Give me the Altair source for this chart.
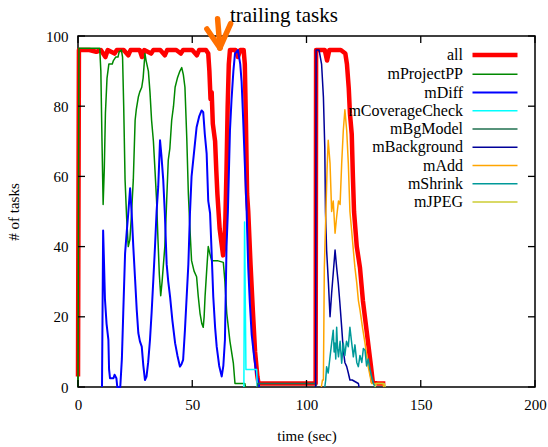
import altair as alt
import pandas as pd

# ---------------- data ----------------
series_names = ["all", "mProjectPP", "mDiff", "mCoverageCheck", "mBgModel",
                "mBackground", "mAdd", "mShrink", "mJPEG"]
series_colors = ["#ff0000", "#008800", "#0000ff", "#00ffff", "#1f6f4f",
                 "#000099", "#ffa500", "#009999", "#cccc33"]
series_widths = [4.5, 1.5, 2.0, 1.5, 1.5, 1.5, 1.5, 1.5, 1.5]

all_t = [0, 0.4, 5, 8, 10, 12, 13, 16, 17, 20, 22, 23, 27, 28, 29, 32, 33, 36, 38, 39,
         43, 45, 46, 50, 52, 53, 56, 57, 57.5, 58, 58.5, 59, 60, 60.5, 61, 62, 63, 63.5,
         64, 64.5, 65, 65.5, 66, 66.5, 69, 70, 71, 72.5, 73, 73.5, 74, 74.5, 75.5, 76.5,
         77.5, 78.5, 79, 90, 104, 104.2, 108, 109, 110, 115, 117, 117.7, 118.5, 119,
         119.8, 120.3, 120.8, 122, 123.4, 124.7, 126.5, 128.2, 129, 131, 134.5]
all_v = [3, 96, 96, 95.5, 96, 94, 96, 95, 96, 96, 94.5, 96, 96, 94, 96, 95, 96, 96, 94.5, 96,
         96, 95, 96, 96, 94.5, 96, 96, 95, 90, 82, 84, 75, 70, 62, 55, 45, 40, 37.5,
         40, 48, 62, 80, 92, 96, 96, 94, 96, 96, 92, 75, 55, 50, 35, 22,
         10, 3, 1, 1, 1, 96, 96, 93, 96, 96, 95, 92, 85, 78,
         72, 60, 50, 40, 34, 24.5, 15, 6, 1.5, 1, 1]

pp_t = [0, 0.4, 9.5, 10, 10.5, 11, 11.5, 12, 12.7, 13.5, 15, 15.5, 16.5, 17.5, 18, 19, 19.5,
        20, 20.6, 21.3, 22, 22.7, 23.3, 24.2, 25, 25.5, 26.4, 27, 27.9, 28.5, 29.3, 29.8,
        30.8, 31.5, 32.2, 33, 33.7, 34.4, 35, 35.6, 36.2, 36.8, 37.4, 38, 38.8, 39.5, 40.2,
        41, 41.8, 42.5, 43.5, 44.6, 45.4, 46.1, 46.8, 47.6, 48.3, 49, 49.7, 50.8, 51.9,
        52.6, 53.4, 54.2, 54.8, 55.2, 55.6, 56.3, 57, 57.7, 58.5, 61, 63.6, 64.3, 65.1,
        66.5, 68, 68.7, 73, 73.3]
pp_v = [0, 96.5, 96.5, 90, 70, 52, 62, 78, 88, 92, 92, 93, 94, 94, 95.5, 96, 94,
        80, 59, 48, 40, 42, 48, 59, 76, 79, 82.6, 84, 85.4, 88, 95, 93,
        90, 84, 76, 70, 61.7, 53, 42, 32, 26, 30, 35, 40, 53, 64.6, 68,
        76, 80, 85.4, 88, 90, 91, 89, 85.4, 71, 55, 45, 36, 33, 31.4,
        26, 21, 18, 17, 20, 25.7, 33, 40, 38, 36, 36, 35.5, 30, 21,
        13, 6.7, 1, 1, 0]

diff_t = [10.5, 11, 11.4, 11.8, 12.5, 13.3, 13.6, 14, 15.5, 16, 16.8, 17.2, 18.5, 19.2, 19.8,
          20.6, 21.3, 22, 22.8, 23.5, 24.2, 25, 25.7, 26.4, 27.1, 27.9, 28.6, 29.3, 30, 30.7,
          31.5, 32.2, 33, 33.7, 34.4, 35.1, 35.9, 36.5, 37.3, 38, 38.8, 39.5, 40.3, 41.3,
          42.5, 43.5, 44.6, 45.3, 46, 46.8, 47.5, 48.3, 49, 49.7, 50.8, 51.9, 53, 54.1,
          54.8, 55.5, 56.3, 57, 57.8, 58.5, 59.2, 60, 60.7, 61.8, 62.9, 63.6, 64.3, 65,
          65.6, 66.5, 67.2, 68, 68.7, 70, 71, 71.6, 72.3, 73, 73.8, 74.5, 75.2, 76, 77,
          78, 78.9, 79.3]
diff_v = [0, 44.6, 35, 25, 18, 13.4, 5, 2.5, 2.5, 3.5, 2.5, 0, 0, 8, 21,
          38, 44, 49.5, 56.6, 49.5, 40, 30.5, 22, 15.4, 13, 11.5, 6, 2, 3, 7,
          13.4, 21, 31, 40, 50, 57, 70.3, 66, 59, 49.5, 35, 30, 25.7, 19,
          12.5, 9, 5.8, 6.5, 7.7, 16.2, 25, 35, 49.5, 60, 67, 74, 77, 78.8,
          78.3, 72, 66.5, 53, 49.5, 38, 25.7, 17, 11.5, 6, 3, 6, 13.4, 40,
          50, 73, 82, 90, 95, 96, 92, 87, 76, 63.7, 50, 34, 24, 15, 9,
          4, 1.5, 0]

cov_t = [72.6, 72.9, 73.5, 78.2, 78.4]
cov_v = [0, 47, 5, 5, 0]

bg_t = [78.5, 78.7, 104, 104.2]
bg_v = [0, 1, 1, 0]

bk_t = [104, 104.2, 105.5, 106.6, 107.4, 108, 108.3, 108.8, 109.6, 110.3, 111, 111.7, 112.5,
        113.2, 113.9, 114.6, 115.4, 116.1, 116.8, 117.6, 118.3, 119, 120, 122.7, 123]
bk_v = [0, 96, 96, 92, 82.6, 68.4, 50, 39, 29.6, 20, 26.7, 32.4, 39,
        34, 29.6, 24, 17, 10.5, 7, 5.8, 4, 2, 2, 1, 0]

add_t = [106.5, 107, 107.4, 107.8, 108.5, 109, 109.5, 110.3, 111, 111.7, 112.5, 113.2, 114,
         114.7, 115.4, 116.1, 116.8, 117.6, 118.3, 119, 119.7, 120.5, 121.2, 122, 122.7,
         123.4, 124.5, 125.6, 127, 128.5, 133.5, 133.8]
add_v = [0, 2, 2, 34, 50, 62, 70.3, 63.7, 50, 53, 43.8, 48.5, 53,
         52, 63.7, 73, 79, 73, 63.7, 50, 45, 39, 34, 29.6, 24.7,
         22, 17, 12.5, 5.8, 1, 1, 0]

shr_t = [108, 108.4, 108.8, 109.5, 110.3, 111, 111.7, 112.1, 112.5, 112.8, 113.2, 113.6, 114,
         114.7, 115.4, 116.1, 116.8, 117.5, 118.3, 119, 119.7, 120.5, 121.2, 122, 122.7,
         123.4, 124.2, 124.9, 125.6, 126.3, 127, 127.8, 128.5, 129.3, 130]
shr_v = [0, 2, 5.8, 4, 8.6, 12.5, 16.2, 10, 12.5, 8, 17, 11, 8.6,
         13, 6.8, 12.5, 9, 13, 11.5, 17, 13, 8.6, 12, 7, 5.8,
         9, 7, 11, 10.5, 6, 8, 5, 3, 1, 0]

jpg_t = [130, 130.5, 134, 134.5]
jpg_v = [0, 1, 1, 0]

x_ticks = [0, 50, 100, 150, 200]
y_ticks = [0, 20, 40, 60, 80, 100]

# annotation (arrow segments and label), in data units
arrow_x1 = [61.1, 56.4, 66.8]
arrow_y1 = [104.9, 102.0, 103.5]
arrow_x2 = [62.1, 62.1, 62.1]
arrow_y2 = [96.6, 96.6, 96.6]
label_text = ["trailing tasks"]
label_x = [66.5]
label_y = [103.9]

# ---------------- build tables ----------------
series_data = {
    "all": (all_t, all_v), "mProjectPP": (pp_t, pp_v), "mDiff": (diff_t, diff_v),
    "mCoverageCheck": (cov_t, cov_v), "mBgModel": (bg_t, bg_v),
    "mBackground": (bk_t, bk_v), "mAdd": (add_t, add_v), "mShrink": (shr_t, shr_v),
    "mJPEG": (jpg_t, jpg_v),
}
rows = []
for name in series_names:
    ts, vs = series_data[name]
    for i, (t, v) in enumerate(zip(ts, vs)):
        rows.append({"series": name, "t": t, "v": v, "i": i})
df = pd.DataFrame(rows)
df_all = df[df.series == "all"]
df_rest = df[df.series != "all"]

W, H = 457, 351
TL = 7
FONT = "Liberation Serif"

xscale = alt.Scale(domain=[0, 200], nice=False, zero=False)
yscale = alt.Scale(domain=[0, 100], nice=False, zero=False)

xaxis = alt.Axis(title="time (sec)", values=x_ticks, ticks=False, tickSize=0,
                 domain=False, grid=False, labelPadding=10, titlePadding=16,
                 labelFlush=False, labelOverlap=False,
                 labelFont=FONT, labelFontSize=15, titleFont=FONT,
                 titleFontSize=15, titleFontWeight="normal",
                 labelColor="black", titleColor="black")
yaxis = alt.Axis(title="# of tasks", values=y_ticks, ticks=False, tickSize=0,
                 domain=False, grid=False, labelPadding=10, titlePadding=24,
                 labelFlush=False, labelOverlap=False,
                 labelFont=FONT, labelFontSize=15, titleFont=FONT,
                 titleFontSize=15, titleFontWeight="normal",
                 labelColor="black", titleColor="black")

legend = alt.Legend(title=None, orient="none", legendX=369, legendY=11,
                    labelAlign="right", labelOffset=0, symbolOffset=0,
                    symbolType="M3.5,0H12.5", symbolSize=100,
                    labelFont=FONT, labelFontSize=16, labelColor="black",
                    rowPadding=2.25, padding=0, labelLimit=300)

color = alt.Color("series:N", scale=alt.Scale(domain=series_names, range=series_colors),
                  legend=legend)
swidth = alt.StrokeWidth("series:N",
                         scale=alt.Scale(type="ordinal", domain=series_names,
                                         range=series_widths),
                         legend=legend)


def X(field):
    return alt.X(field, scale=xscale, axis=xaxis)


def Y(field):
    return alt.Y(field, scale=yscale, axis=yaxis)


all_line = alt.Chart(df_all).mark_line(strokeJoin="round").encode(
    x=X("t:Q"), y=Y("v:Q"), color=color, strokeWidth=swidth, order="i:Q")
rest_line = alt.Chart(df_rest).mark_line(strokeJoin="round").encode(
    x=X("t:Q"), y=Y("v:Q"), color=color, strokeWidth=swidth, order="i:Q")

xt_df = pd.DataFrame({"xt": x_ticks})
yt_df = pd.DataFrame({"yt": y_ticks})
tick_style = dict(color="black", strokeWidth=1.3)
bottom_ticks = alt.Chart(xt_df).mark_rule(**tick_style).encode(
    x=X("xt:Q"), y=alt.value(H), y2=alt.value(H - TL))
top_ticks = alt.Chart(xt_df).mark_rule(**tick_style).encode(
    x=X("xt:Q"), y=alt.value(0), y2=alt.value(TL))
left_ticks = alt.Chart(yt_df).mark_rule(**tick_style).encode(
    y=Y("yt:Q"), x=alt.value(0), x2=alt.value(TL))
right_ticks = alt.Chart(yt_df).mark_rule(**tick_style).encode(
    y=Y("yt:Q"), x=alt.value(W), x2=alt.value(W - TL))

arrow_df = pd.DataFrame({"x1": arrow_x1, "y1": arrow_y1, "x2": arrow_x2, "y2": arrow_y2})
arrow = alt.Chart(arrow_df).mark_rule(color="#ff7000", strokeWidth=5.5, strokeCap="round").encode(
    x=X("x1:Q"), y=Y("y1:Q"), x2="x2:Q", y2="y2:Q")

label_df = pd.DataFrame({"text": label_text, "lx": label_x, "ly": label_y})
label = alt.Chart(label_df).mark_text(font=FONT, fontSize=21, align="left",
                                      baseline="alphabetic", color="black").encode(
    x=X("lx:Q"), y=Y("ly:Q"), text="text:N")

chart = alt.layer(all_line, rest_line, bottom_ticks, top_ticks, left_ticks, right_ticks,
                  arrow, label).properties(
    width=W, height=H,
    autosize=alt.AutoSizeParams(type="none"),
    padding={"left": 78, "top": 36, "right": 13, "bottom": 60},
    background="white",
).configure(font=FONT).configure_view(stroke="black", strokeWidth=1.5)

chart.save("out.html", embed_options={"renderer": "svg", "actions": False})
